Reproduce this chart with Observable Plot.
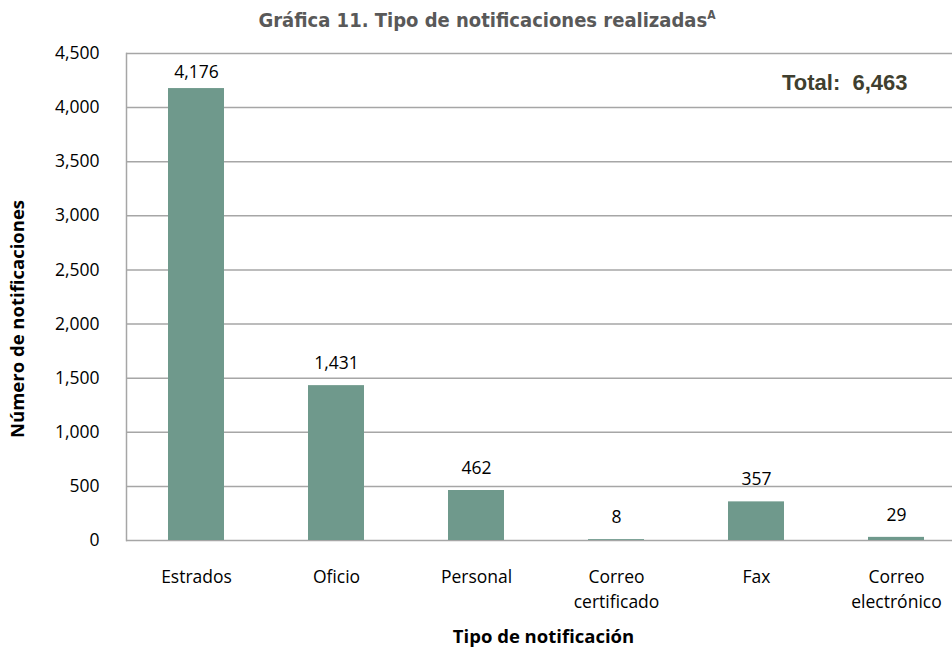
<!DOCTYPE html>
<html>
<head>
<meta charset="utf-8">
<script src="https://cdn.jsdelivr.net/npm/d3@7"></script>
<script src="https://cdn.jsdelivr.net/npm/@observablehq/plot@0.6"></script>
<style>
  html, body { margin: 0; padding: 0; background: #fff; }
</style>
</head>
<body>
<div id="chart"></div>
<script>
const categories = ["Estrados", "Oficio", "Personal", "Correo certificado", "Fax", "Correo electrónico"];
const values = [4176, 1431, 462, 8, 357, 29];
const yTicks = [0, 500, 1000, 1500, 2000, 2500, 3000, 3500, 4000, 4500];
const totalLabel = "Total:  6,463";
const titleText = "Gráfica 11. Tipo de notificaciones realizadas";
const titleSup = "A";
const xTitle = "Tipo de notificación";
const yTitle = "Número de notificaciones";

const data = categories.map((c, i) => ({tipo: c, n: values[i]}));
const fmt = d3.format(",");

const chart = Plot.plot({
  width: 952,
  height: 652,
  marginLeft: 126,
  marginRight: 0,
  marginTop: 53,
  marginBottom: 112,
  style: {fontFamily: "'Open Sans', sans-serif", fontSize: "17.5px", color: "#000", background: "#fff"},
  x: {type: "band", domain: categories, range: [126, 966], paddingInner: 0.6, paddingOuter: 0.3, label: null},
  y: {domain: [0, 4500], label: null},
  marks: [
    Plot.ruleY(yTicks, {stroke: "#a6a6a6", strokeWidth: 1.5}),
    Plot.frame({anchor: "left", stroke: "#a6a6a6", strokeWidth: 1.5}),
    Plot.barY(data, {x: "tipo", y: "n", fill: "#6f998c"}),
    Plot.text(data.filter(d => d.n < 4000), {x: "tipo", y: "n", text: d => fmt(d.n), dy: -22, fill: "#000"}),
    Plot.text(data.filter(d => d.n >= 4000), {x: "tipo", y: "n", text: d => fmt(d.n), dy: -16, fill: "#000"}),
    Plot.axisY({ticks: yTicks, tickFormat: d => fmt(d), tickSize: 0, tickPadding: 27, fill: "#000"}),
    Plot.axisX({tickSize: 0, tickPadding: 24, lineWidth: 6.5, lineHeight: 1.45, fill: "#000"}),
    Plot.text([xTitle], {frameAnchor: "bottom", dx: 4, dy: 102, fontWeight: "bold", fontSize: 18.5, fill: "#000"}),
    Plot.text([yTitle], {frameAnchor: "left", textAnchor: "middle", rotate: -90, dx: -108, dy: 22, fontWeight: "bold", fontSize: 18.5, fill: "#000"}),
    Plot.text([totalLabel], {frameAnchor: "top-right", textAnchor: "end", lineAnchor: "middle", dx: -45, dy: 29,
      fontFamily: "'Liberation Sans', Arial, sans-serif", fontWeight: "bold", fontSize: 22, fill: "#3f3f2f"})
  ]
});

const svg = d3.select(chart);
const t = svg.append("text")
  .attr("x", 487).attr("y", 27)
  .attr("text-anchor", "middle")
  .attr("font-family", "'Liberation Sans Narrow', 'DejaVu Sans Condensed', sans-serif")
  .attr("font-weight", "bold")
  .attr("font-size", 20)
  .attr("fill", "#595959");
t.append("tspan").text(titleText);
t.append("tspan").attr("font-size", 12).attr("dy", -8).text(titleSup);

document.getElementById("chart").appendChild(chart);
</script>
</body>
</html>
